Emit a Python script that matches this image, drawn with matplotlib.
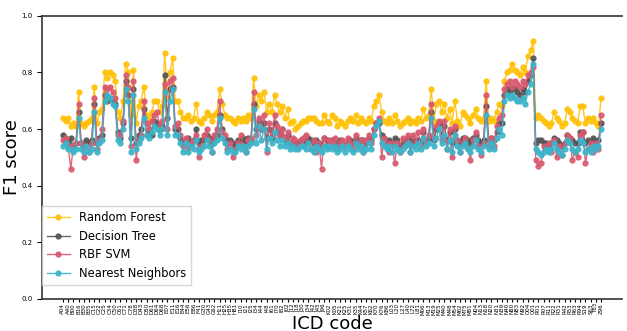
import matplotlib
matplotlib.use('Agg')
import matplotlib.pyplot as plt

# ICD codes shown on the x axis (one every second point)
icd_codes = ['A04', 'A40', 'B00', 'B16', 'B30', 'B35', 'C15', 'C22', 'C25', 'C34', 'C50', 'C61', 'C71',
             'C78', 'D38', 'D43', 'D50', 'D61', 'D64', 'D68', 'E07', 'E11', 'E16', 'E44', 'E56', 'E86',
             'F41', 'G30', 'G43', 'G62', 'H11', 'H25', 'H35', 'H81', 'I10', 'I21', 'I25', 'I34', 'I44',
             'I48', 'I61', 'I70', 'I82', 'J02', 'J12', 'J18', 'J30', 'J34', 'J42', 'J45', 'J96', 'K02',
             'K05', 'K21', 'K25', 'K31', 'K35', 'K44', 'K57', 'K62', 'K70', 'K76', 'K86', 'L03', 'L20',
             'L27', 'L40', 'L72', 'L81', 'M06', 'M13', 'M19', 'M25', 'M40', 'M48', 'M54', 'M62', 'M75',
             'M81', 'N04', 'N13', 'N18', 'N20', 'N31', 'N39', 'N40', 'N80', 'N83', 'N92', 'O04', 'Q01',
             'R01', 'R07', 'R11', 'R22', 'R31', 'R42', 'R53', 'R63', 'R94', 'S19', 'S63', 'T83', 'Z96']

random_forest = [
    0.64, 0.63, 0.64, 0.61, 0.62, 0.61, 0.73, 0.62, 0.61, 0.62,
    0.63, 0.64, 0.75, 0.62, 0.66, 0.67, 0.80, 0.78, 0.80, 0.79,
    0.77, 0.66, 0.64, 0.70, 0.83, 0.80, 0.65, 0.81, 0.62, 0.68,
    0.70, 0.75, 0.65, 0.64, 0.66, 0.70, 0.70, 0.66, 0.68, 0.87,
    0.71, 0.80, 0.85, 0.70, 0.70, 0.66, 0.64, 0.64, 0.65, 0.63,
    0.64, 0.69, 0.63, 0.62, 0.64, 0.66, 0.65, 0.63, 0.65, 0.66,
    0.74, 0.69, 0.65, 0.64, 0.64, 0.63, 0.62, 0.64, 0.63, 0.64,
    0.63, 0.65, 0.64, 0.78, 0.68, 0.72, 0.70, 0.73, 0.66, 0.69,
    0.66, 0.72, 0.69, 0.66, 0.68, 0.64, 0.67, 0.62, 0.63, 0.60,
    0.61, 0.62, 0.63, 0.63, 0.64, 0.64, 0.64, 0.63, 0.62, 0.62,
    0.65, 0.63, 0.62, 0.65, 0.64, 0.61, 0.63, 0.62, 0.61, 0.63,
    0.64, 0.63, 0.65, 0.62, 0.64, 0.63, 0.62, 0.64, 0.63, 0.68,
    0.70, 0.72, 0.66, 0.63, 0.62, 0.64, 0.62, 0.65, 0.63, 0.61,
    0.62, 0.63, 0.64, 0.62, 0.63, 0.62, 0.64, 0.63, 0.67, 0.64,
    0.65, 0.74, 0.63, 0.69, 0.70, 0.66, 0.69, 0.64, 0.67, 0.62,
    0.70, 0.63, 0.61, 0.66, 0.65, 0.64, 0.62, 0.65, 0.67, 0.64,
    0.63, 0.64, 0.77, 0.63, 0.64, 0.63, 0.66, 0.69, 0.68, 0.77,
    0.80, 0.81, 0.83, 0.81, 0.80, 0.79, 0.82, 0.80, 0.86, 0.88,
    0.91, 0.64, 0.65, 0.64, 0.63, 0.62, 0.61, 0.62, 0.66, 0.64,
    0.63, 0.61, 0.62, 0.67, 0.66, 0.64, 0.63, 0.62, 0.68, 0.68,
    0.62, 0.64, 0.63, 0.64, 0.62, 0.61, 0.71]

decision_tree = [
    0.58, 0.56, 0.55, 0.57, 0.53, 0.55, 0.66, 0.55, 0.54, 0.56,
    0.55, 0.56, 0.69, 0.55, 0.57, 0.58, 0.72, 0.70, 0.71, 0.70,
    0.69, 0.59, 0.57, 0.62, 0.77, 0.72, 0.57, 0.74, 0.55, 0.58,
    0.60, 0.67, 0.58, 0.59, 0.58, 0.63, 0.62, 0.60, 0.61, 0.79,
    0.64, 0.74, 0.75, 0.60, 0.60, 0.57, 0.55, 0.56, 0.57, 0.55,
    0.56, 0.60, 0.55, 0.56, 0.56, 0.58, 0.57, 0.55, 0.57, 0.58,
    0.65, 0.60, 0.57, 0.55, 0.56, 0.55, 0.54, 0.56, 0.56, 0.57,
    0.55, 0.57, 0.56, 0.69, 0.60, 0.63, 0.60, 0.62, 0.57, 0.60,
    0.57, 0.62, 0.59, 0.58, 0.60, 0.56, 0.58, 0.55, 0.56, 0.55,
    0.55, 0.56, 0.56, 0.55, 0.57, 0.56, 0.55, 0.56, 0.55, 0.54,
    0.57, 0.56, 0.55, 0.56, 0.55, 0.54, 0.56, 0.55, 0.54, 0.56,
    0.56, 0.55, 0.57, 0.55, 0.56, 0.56, 0.55, 0.57, 0.56, 0.60,
    0.62, 0.62, 0.58, 0.57, 0.55, 0.56, 0.55, 0.57, 0.56, 0.54,
    0.55, 0.56, 0.57, 0.55, 0.56, 0.55, 0.56, 0.55, 0.59, 0.56,
    0.57, 0.66, 0.56, 0.60, 0.62, 0.58, 0.61, 0.56, 0.59, 0.55,
    0.60, 0.56, 0.55, 0.57, 0.57, 0.56, 0.55, 0.57, 0.58, 0.56,
    0.55, 0.56, 0.68, 0.56, 0.57, 0.56, 0.59, 0.62, 0.62, 0.72,
    0.74, 0.73, 0.75, 0.74, 0.73, 0.72, 0.74, 0.73, 0.77, 0.79,
    0.85, 0.55, 0.56, 0.56, 0.55, 0.55, 0.54, 0.55, 0.57, 0.56,
    0.55, 0.54, 0.55, 0.58, 0.57, 0.56, 0.55, 0.55, 0.59, 0.59,
    0.55, 0.56, 0.55, 0.57, 0.55, 0.56, 0.62]

rbf_svm = [
    0.56, 0.57, 0.54, 0.46, 0.54, 0.55, 0.69, 0.55, 0.50, 0.54,
    0.52, 0.55, 0.71, 0.53, 0.56, 0.60, 0.75, 0.74, 0.75, 0.73,
    0.71, 0.58, 0.58, 0.63, 0.79, 0.75, 0.54, 0.77, 0.49, 0.56,
    0.58, 0.70, 0.62, 0.60, 0.63, 0.65, 0.66, 0.61, 0.63, 0.76,
    0.60, 0.77, 0.78, 0.61, 0.62, 0.58, 0.54, 0.57, 0.53, 0.55,
    0.56, 0.58, 0.50, 0.54, 0.58, 0.60, 0.56, 0.52, 0.58, 0.60,
    0.70, 0.59, 0.58, 0.53, 0.55, 0.50, 0.53, 0.55, 0.58, 0.54,
    0.52, 0.56, 0.57, 0.73, 0.58, 0.64, 0.60, 0.65, 0.52, 0.62,
    0.58, 0.65, 0.61, 0.58, 0.60, 0.57, 0.59, 0.55, 0.57, 0.56,
    0.54, 0.56, 0.57, 0.58, 0.55, 0.53, 0.56, 0.52, 0.55, 0.46,
    0.57, 0.54, 0.56, 0.55, 0.57, 0.53, 0.55, 0.56, 0.54, 0.57,
    0.55, 0.53, 0.58, 0.54, 0.56, 0.52, 0.56, 0.58, 0.55, 0.60,
    0.62, 0.64, 0.50, 0.57, 0.55, 0.52, 0.55, 0.48, 0.55, 0.52,
    0.57, 0.54, 0.58, 0.52, 0.58, 0.55, 0.59, 0.54, 0.60, 0.55,
    0.58, 0.69, 0.57, 0.61, 0.63, 0.56, 0.63, 0.53, 0.60, 0.50,
    0.61, 0.56, 0.52, 0.55, 0.57, 0.53, 0.49, 0.56, 0.59, 0.54,
    0.51, 0.55, 0.72, 0.54, 0.57, 0.54, 0.61, 0.64, 0.65, 0.74,
    0.76, 0.77, 0.75, 0.77, 0.76, 0.75, 0.77, 0.76, 0.79, 0.80,
    0.82, 0.49, 0.47, 0.48, 0.54, 0.53, 0.55, 0.52, 0.56, 0.50,
    0.54, 0.51, 0.55, 0.58, 0.57, 0.49, 0.52, 0.50, 0.58, 0.59,
    0.48, 0.53, 0.55, 0.52, 0.55, 0.53, 0.65]

nearest_neighbors = [
    0.54, 0.55, 0.53, 0.53, 0.52, 0.53, 0.64, 0.53, 0.52, 0.54,
    0.52, 0.53, 0.66, 0.52, 0.55, 0.56, 0.70, 0.72, 0.71, 0.69,
    0.68, 0.56, 0.55, 0.60, 0.74, 0.70, 0.52, 0.72, 0.53, 0.55,
    0.57, 0.64, 0.58, 0.57, 0.59, 0.61, 0.60, 0.58, 0.60, 0.73,
    0.58, 0.70, 0.74, 0.58, 0.58, 0.55, 0.52, 0.55, 0.52, 0.54,
    0.53, 0.56, 0.52, 0.53, 0.54, 0.56, 0.54, 0.52, 0.55, 0.56,
    0.64, 0.57, 0.55, 0.52, 0.53, 0.52, 0.52, 0.54, 0.53, 0.54,
    0.52, 0.54, 0.55, 0.67, 0.55, 0.61, 0.56, 0.60, 0.53, 0.57,
    0.55, 0.59, 0.56, 0.54, 0.56, 0.54, 0.55, 0.53, 0.54, 0.53,
    0.53, 0.54, 0.54, 0.53, 0.55, 0.53, 0.52, 0.54, 0.53, 0.52,
    0.54, 0.53, 0.54, 0.53, 0.54, 0.52, 0.53, 0.54, 0.52, 0.54,
    0.53, 0.52, 0.55, 0.53, 0.54, 0.52, 0.53, 0.55, 0.53, 0.58,
    0.61, 0.63, 0.55, 0.54, 0.53, 0.54, 0.52, 0.54, 0.53, 0.52,
    0.53, 0.54, 0.55, 0.52, 0.54, 0.53, 0.55, 0.53, 0.57, 0.54,
    0.55, 0.64, 0.54, 0.57, 0.60, 0.55, 0.58, 0.53, 0.56, 0.52,
    0.58, 0.54, 0.52, 0.54, 0.55, 0.53, 0.52, 0.54, 0.56, 0.53,
    0.52, 0.54, 0.65, 0.53, 0.55, 0.53, 0.57, 0.60, 0.58, 0.70,
    0.72, 0.71, 0.72, 0.71, 0.70, 0.70, 0.71, 0.69, 0.73, 0.76,
    0.83, 0.53, 0.52, 0.51, 0.52, 0.53, 0.52, 0.53, 0.55, 0.53,
    0.52, 0.51, 0.53, 0.56, 0.55, 0.53, 0.52, 0.53, 0.56, 0.55,
    0.52, 0.53, 0.52, 0.54, 0.53, 0.54, 0.60]

fig = plt.figure(figsize=(6.27, 3.31), dpi=100)
ax = fig.add_axes([0.067, 0.097, 0.925, 0.855])

x = list(range(len(random_forest)))
ax.plot(x, random_forest, color='#ffc107', marker='o', markersize=3.5, linewidth=1, alpha=0.9, label='Random Forest')
ax.plot(x, decision_tree, color='#555555', marker='o', markersize=3.5, linewidth=1, alpha=0.9, label='Decision Tree')
ax.plot(x, rbf_svm, color='#d9596f', marker='o', markersize=3.5, linewidth=1, alpha=0.9, label='RBF SVM')
ax.plot(x, nearest_neighbors, color='#3cb4c9', marker='o', markersize=3.5, linewidth=1, alpha=0.9, label='Nearest Neighbors')

ax.set_xticks(x[::2])
ax.set_xticklabels(icd_codes, rotation=90, fontsize=4)
ax.set_xlim(-8, len(x) + 7)
ax.set_ylim(0, 1)
ax.set_yticks([0.0, 0.2, 0.4, 0.6, 0.8, 1.0])
ax.tick_params(axis='y', labelsize=5)
ax.tick_params(axis='x', length=2, pad=1)

for side in ['left', 'bottom', 'top']:
    ax.spines[side].set_color('#333333')
    ax.spines[side].set_linewidth(1.2)
ax.spines['right'].set_visible(False)

ax.set_xlabel('ICD code', fontsize=13, labelpad=0)
ax.set_ylabel('F1 score', fontsize=13)
ax.yaxis.set_label_coords(-0.037, 0.5)

leg = ax.legend(loc='lower left', bbox_to_anchor=(0, 0.05), borderaxespad=0, fontsize=8.3, fancybox=False)
leg.get_frame().set_edgecolor('#cccccc')

plt.savefig('out.png', dpi=100)
